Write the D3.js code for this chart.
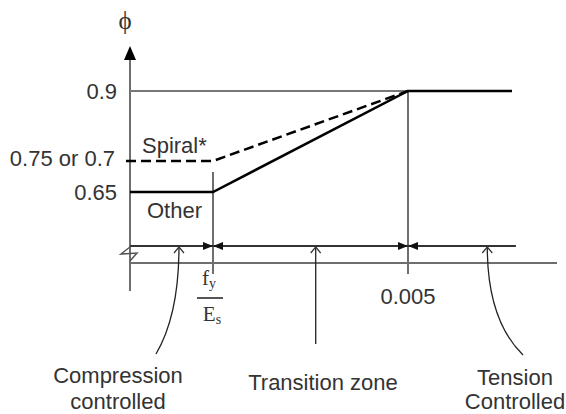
<!DOCTYPE html>
<html>
<head>
<meta charset="utf-8">
<script src="https://cdn.jsdelivr.net/npm/d3@7"></script>
<style>
  body { margin: 0; background: #fff; }
  text { font-family: "Liberation Sans", Arial, sans-serif; fill: #333; }
</style>
</head>
<body>
<script>
// phi vs net tensile strain (schematic, not to scale)
let strainKeys  = [0, 0.002, 0.005];          // axis origin, fy/Es, 0.005
let phiKeys     = [0.65, 0.75, 0.9];
let otherStrain = [0, 0.002, 0.005, 0.0066];
let otherPhi    = [0.65, 0.65, 0.9, 0.9];
let spiralStrain = [0, 0.002, 0.005];
let spiralPhi    = [0.75, 0.75, 0.9];
let tickLabels  = ["0.65", "0.75 or 0.7", "0.9"];
let zoneBounds  = [0, 0.002, 0.005, 0.00666];
let zoneNames   = [["Compression", "controlled"], ["Transition zone"], ["Tension", "Controlled"]];
let zonePoints  = [0.00118, 0.00358, 0.00622];

let size = {width: 566, height: 414};
let svg = d3.select("body").append("svg")
    .attr("width", size.width).attr("height", size.height);

// piecewise scales, the sketch is not drawn to scale
let x = d3.scaleLinear().domain(strainKeys).range([130, 213, 408]);
let y = d3.scaleLinear().domain(phiKeys).range([192, 161, 91]);

let axisColor = "#6e6e6e";
let dimY = 246, axisY = 263;
let serif = "Liberation Serif, Times New Roman, serif";

// y axis with arrow
svg.append("line").attr("x1", x(0)).attr("x2", x(0)).attr("y1", 291).attr("y2", 58)
    .attr("stroke", axisColor).attr("stroke-width", 2);
svg.append("path").attr("d", `M${x(0)},46 L${x(0) - 6},60 L${x(0) + 6},60 Z`).attr("fill", "#000");
svg.append("text").attr("x", 125).attr("y", 29).attr("text-anchor", "middle")
    .style("font-family", serif).style("font-size", "25px").text("\u03D5");

// x axis
svg.append("line").attr("x1", x(0)).attr("x2", 557).attr("y1", axisY).attr("y2", axisY)
    .attr("stroke", axisColor).attr("stroke-width", 2);
// axis break
svg.append("path").attr("d", `M${x(0)},247 L${x(0) - 9},254 L${x(0) + 7},253 L${x(0)},261`)
    .attr("fill", "none").attr("stroke", "#555").attr("stroke-width", 1.5);

// 0.9 reference line
svg.append("line").attr("x1", x(0)).attr("x2", x(0.005)).attr("y1", y(0.9)).attr("y2", y(0.9))
    .attr("stroke", "#777").attr("stroke-width", 1.8);

// vertical markers at fy/Es and 0.005
svg.append("line").attr("x1", x(0.002)).attr("x2", x(0.002)).attr("y1", 172).attr("y2", 274)
    .attr("stroke", axisColor).attr("stroke-width", 2);
svg.append("line").attr("x1", x(0.005)).attr("x2", x(0.005)).attr("y1", y(0.9)).attr("y2", 274)
    .attr("stroke", axisColor).attr("stroke-width", 2);

// phi curves
let line = d3.line().x(d => x(d[0])).y(d => y(d[1]));
svg.append("path").datum(d3.zip(otherStrain, otherPhi)).attr("d", line)
    .attr("fill", "none").attr("stroke", "#000").attr("stroke-width", 2.5);
let spiralPts = d3.zip(spiralStrain, spiralPhi);
svg.append("path").datum(spiralPts)
    .attr("d", "M" + (x(0) - 7) + "," + y(0.75) + line(spiralPts).replace("M", "L"))
    .attr("fill", "none").attr("stroke", "#000").attr("stroke-width", 2.5)
    .attr("stroke-dasharray", "10,5").attr("stroke-dashoffset", 12);

// tick labels
phiKeys.forEach((v, i) => {
    svg.append("text").attr("x", i === 1 ? 115 : 117).attr("y", y(v) + (i === 1 ? 5 : 7.5))
        .attr("text-anchor", "end").style("font-size", "22px").text(tickLabels[i]);
});
svg.append("text").attr("x", 142).attr("y", 153).style("font-size", "22px").text("Spiral*");
svg.append("text").attr("x", 147).attr("y", 218).style("font-size", "22px").text("Other");

// strain labels
let fy = svg.append("text").attr("x", 209).attr("y", 285).attr("text-anchor", "middle")
    .style("font-family", serif).style("font-size", "21px");
fy.append("tspan").text("f");
fy.append("tspan").attr("dy", 3).style("font-size", "14px").text("y");
svg.append("line").attr("x1", 197).attr("x2", 223).attr("y1", 298).attr("y2", 298)
    .attr("stroke", "#555").attr("stroke-width", 2);
let es = svg.append("text").attr("x", 212).attr("y", 321).attr("text-anchor", "middle")
    .style("font-family", serif).style("font-size", "21px");
es.append("tspan").text("E");
es.append("tspan").attr("dy", 3).style("font-size", "14px").text("s");
svg.append("text").attr("x", x(0.005)).attr("y", 304).attr("text-anchor", "middle")
    .style("font-size", "22px").text("0.005");

// dimension line with arrowheads
svg.append("line").attr("x1", x(zoneBounds[0])).attr("x2", x(zoneBounds[3])).attr("y1", dimY).attr("y2", dimY)
    .attr("stroke", "#333").attr("stroke-width", 2);
[zoneBounds[1], zoneBounds[2]].forEach(s => {
    let px = x(s);
    svg.append("path").attr("d", `M${px},${dimY} L${px - 10},${dimY - 4} L${px - 10},${dimY + 4} Z`).attr("fill", "#111");
    svg.append("path").attr("d", `M${px},${dimY} L${px + 10},${dimY - 4} L${px + 10},${dimY + 4} Z`).attr("fill", "#111");
});

// zone callouts
let tip = zonePoints.map(x);
let callouts = [
    `M156,354 Q${tip[0]},315 ${tip[0]},${dimY + 1}`,
    `M${tip[1]},344 L${tip[1]},${dimY + 1}`,
    `M523,355 Q${tip[2]},320 ${tip[2]},${dimY + 1}`
];
callouts.forEach((d, i) => {
    svg.append("path").attr("d", d).attr("fill", "none").attr("stroke", "#222").attr("stroke-width", 1.3);
    svg.append("path").attr("d", `M${tip[i] - 5},${dimY + 7} L${tip[i]},${dimY + 1} L${tip[i] + 5},${dimY + 7}`)
        .attr("fill", "none").attr("stroke", "#333").attr("stroke-width", 1.2);
});
let labelPos = [{x: 118, y: 383}, {x: 323, y: 390}, {x: 515, y: 385}];
zoneNames.forEach((lines, i) => {
    lines.forEach((t, j) => {
        svg.append("text").attr("x", labelPos[i].x).attr("y", labelPos[i].y + j * (i === 2 ? 24 : 26))
            .attr("text-anchor", "middle").style("font-size", "22px").text(t);
    });
});
</script>
</body>
</html>
